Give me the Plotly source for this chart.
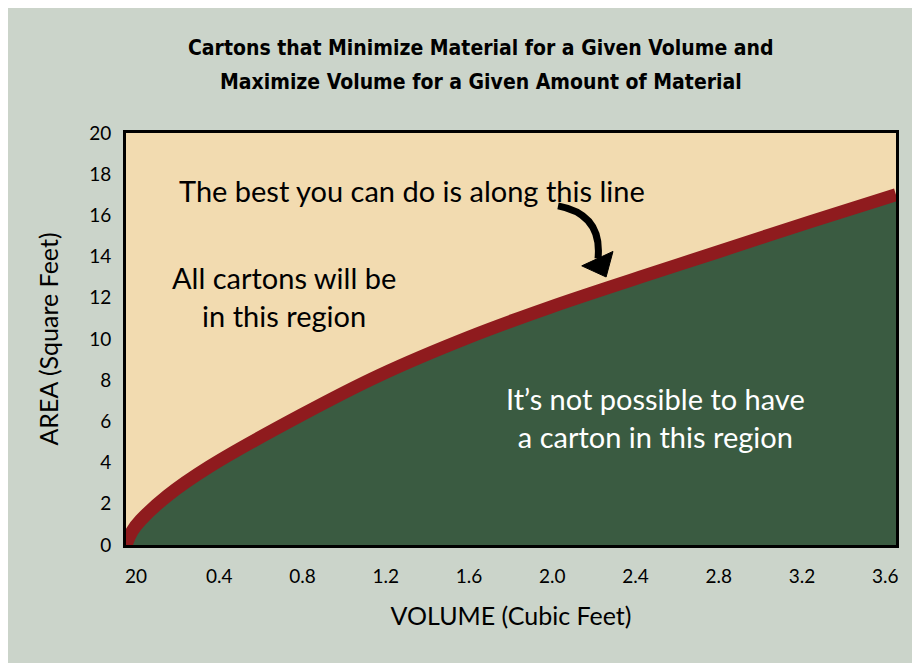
import plotly.graph_objects as go

# Data
volume = [0.0, 0.03, 0.07, 0.20, 0.40, 0.84, 1.22, 1.65, 2.04, 2.47, 2.85, 3.29, 3.70]
area = [0.0, 0.68, 1.20, 2.40, 3.80, 6.30, 8.25, 10.10, 11.55, 13.00, 14.25, 15.70, 17.0]
x_ticks = [0, 0.4, 0.8, 1.2, 1.6, 2.0, 2.4, 2.8, 3.2, 3.6]
x_tick_text = ["20", "0.4", "0.8", "1.2", "1.6", "2.0", "2.4", "2.8", "3.2", "3.6"]
y_ticks = list(range(0, 21, 2))
title_lines = ["Cartons that Minimize Material for a Given Volume and",
               "Maximize Volume for a Given Amount of Material"]

BG = "#cbd4ca"
TAN = "#f2dbb0"
RED = "#8f1b1e"
GREEN = "#3a5b41"
BODY_FONT = "Lato, 'Noto Sans', sans-serif"
TITLE_FONT = "'Liberation Sans Narrow', 'DejaVu Sans Condensed', sans-serif"

fig = go.Figure()
fig.add_trace(go.Scatter(
    x=volume, y=area, mode="lines", fill="tozeroy", fillcolor=GREEN,
    line=dict(color=RED, width=13, shape="spline", smoothing=1.0),
    hoverinfo="skip", showlegend=False, cliponaxis=True,
))

# curved arrow (decoration)
fig.add_shape(type="path", xref="x", yref="y",
              path="M 2.076,16.46 Q 2.29,16.05 2.268,13.9",
              line=dict(color="black", width=7), layer="above")
fig.add_shape(type="path", xref="x", yref="y",
              path="M 2.190,13.55 L 2.340,14.25 L 2.307,13.01 Z",
              fillcolor="black", line=dict(color="black", width=1), layer="above")

# two-line title as separate annotations (to control line spacing)
for txt, yy in zip(title_lines, [1.2063, 1.1238]):
    fig.add_annotation(x=0.461, y=yy, xref="paper", yref="paper", text=f"<b>{txt}</b>",
                       showarrow=False, xanchor="center", yanchor="middle",
                       font=dict(family=TITLE_FONT, size=21, color="black"))

fig.add_annotation(x=1.374, y=17.23, xref="x", yref="y",
                   text="The best you can do is along this line",
                   showarrow=False, font=dict(family=BODY_FONT, size=29, color="black"))
fig.add_annotation(x=0.759, y=12.04, xref="x", yref="y",
                   text="All cartons will be<br>in this region",
                   showarrow=False, font=dict(family=BODY_FONT, size=29, color="black"))
fig.add_annotation(x=2.542, y=6.21, xref="x", yref="y",
                   text="It\u2019s not possible to have<br>a carton in this region",
                   showarrow=False, font=dict(family=BODY_FONT, size=29, color="white"))

fig.update_layout(
    width=920, height=663,
    margin=dict(l=118, r=32, t=125, b=126),
    paper_bgcolor=BG, plot_bgcolor=TAN,
    xaxis=dict(
        range=[0, 3.70], tickvals=x_ticks, ticktext=x_tick_text,
        showgrid=False, zeroline=False, showline=True, mirror=True,
        linecolor="black", linewidth=3, ticks="", ticklabelshift=10,
        ticklabelstandoff=12,
        tickfont=dict(family=BODY_FONT, size=19, color="black"),
        title=dict(text="VOLUME (Cubic Feet)", standoff=22,
                   font=dict(family=BODY_FONT, size=25, color="black")),
    ),
    yaxis=dict(
        range=[0, 20], tickvals=y_ticks,
        showgrid=False, zeroline=False, showline=True, mirror=True,
        linecolor="black", linewidth=3, ticks="", ticklabelstandoff=8,
        tickfont=dict(family=BODY_FONT, size=19, color="black"),
        title=dict(text="AREA (Square Feet)", standoff=24,
                   font=dict(family=BODY_FONT, size=25, color="black")),
    ),
)

fig.write_html("out.html")
